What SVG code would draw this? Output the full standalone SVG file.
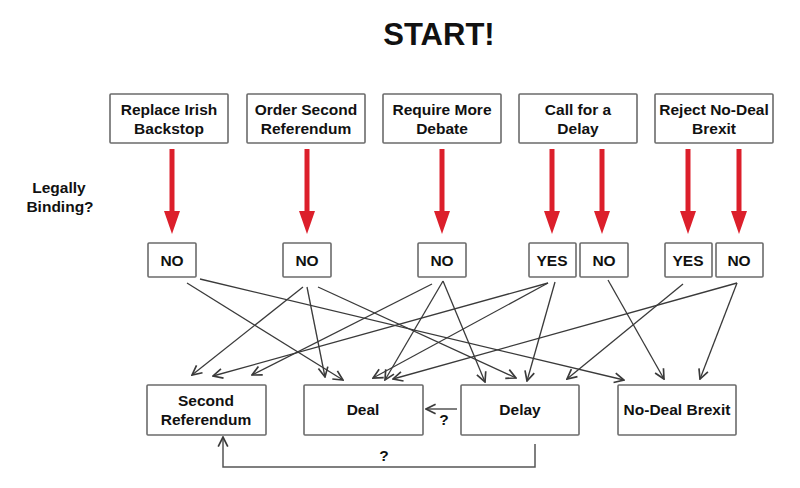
<svg xmlns="http://www.w3.org/2000/svg" width="800" height="488" viewBox="0 0 800 488">
<defs>
<style>
.box{fill:#fff;stroke:#6b6b6b;stroke-width:1.6}
.t{font-family:"Liberation Sans",Arial,sans-serif;font-weight:bold;font-size:15.5px;fill:#111;text-anchor:middle}
.title{font-family:"Liberation Sans",Arial,sans-serif;font-weight:bold;font-size:31px;fill:#111;text-anchor:middle}
.red{stroke:#dc1f2b;stroke-width:5;fill:none}
.redhead{fill:#dc1f2b}
.c{stroke:#3a3a3a;stroke-width:1.3;fill:none;marker-end:url(#arr)}
.fb{stroke:#555;stroke-width:1.5;fill:none;marker-end:url(#arr)}
</style>
<marker id="arr" markerUnits="userSpaceOnUse" markerWidth="12" markerHeight="12" refX="9" refY="5" orient="auto" viewBox="0 0 10 10">
<path d="M1,1 L9,5 L1,9" fill="none" stroke="#3a3a3a" stroke-width="1.4"/>
</marker>
<marker id="red" markerUnits="userSpaceOnUse" markerWidth="25" markerHeight="18" refX="0" refY="0" orient="auto" viewBox="-1 -9 25 18">
<path d="M0,-8 L23,0 L0,8 Z" class="redhead"/>
</marker>
</defs>
<rect width="800" height="488" fill="#fff"/>
<text class="title" x="439" y="45">START!</text>
<text class="t" x="59" y="193">Legally</text>
<text class="t" x="60" y="212">Binding?</text>

<g id="top1"><rect class="box" x="110" y="94" width="118" height="49" rx="1"/><text class="t" x="169" y="115">Replace Irish</text><text class="t" x="169" y="134">Backstop</text></g>
<g id="top2"><rect class="box" x="247" y="94" width="118" height="49" rx="1"/><text class="t" x="306" y="115">Order Second</text><text class="t" x="306" y="134">Referendum</text></g>
<g id="top3"><rect class="box" x="383" y="94" width="118" height="49" rx="1"/><text class="t" x="442" y="115">Require More</text><text class="t" x="442" y="134">Debate</text></g>
<g id="top4"><rect class="box" x="519" y="94" width="118" height="49" rx="1"/><text class="t" x="578" y="115">Call for a</text><text class="t" x="578" y="134">Delay</text></g>
<g id="top5"><rect class="box" x="655" y="94" width="118" height="49" rx="1"/><text class="t" x="714" y="115">Reject No-Deal</text><text class="t" x="714" y="134">Brexit</text></g>

<g id="mid1"><rect class="box" x="148" y="243" width="48" height="34" rx="1"/><text class="t" x="172" y="266">NO</text></g>
<g id="mid2"><rect class="box" x="283" y="243" width="48" height="34" rx="1"/><text class="t" x="307" y="266">NO</text></g>
<g id="mid3"><rect class="box" x="418" y="243" width="48" height="34" rx="1"/><text class="t" x="442" y="266">NO</text></g>
<g id="mid4"><rect class="box" x="529" y="243" width="47" height="34" rx="1"/><text class="t" x="552" y="266">YES</text></g>
<g id="mid5"><rect class="box" x="580" y="243" width="48" height="34" rx="1"/><text class="t" x="604" y="266">NO</text></g>
<g id="mid6"><rect class="box" x="665" y="243" width="47" height="34" rx="1"/><text class="t" x="688" y="266">YES</text></g>
<g id="mid7"><rect class="box" x="716" y="243" width="47" height="34" rx="1"/><text class="t" x="739" y="266">NO</text></g>

<g id="bot1"><rect class="box" x="147" y="385" width="119" height="50" rx="1"/><text class="t" x="206" y="406">Second</text><text class="t" x="206" y="425">Referendum</text></g>
<g id="bot2"><rect class="box" x="304" y="385" width="119" height="50" rx="1"/><text class="t" x="363" y="415">Deal</text></g>
<g id="bot3"><rect class="box" x="461" y="385" width="118" height="50" rx="1"/><text class="t" x="520" y="415">Delay</text></g>
<g id="bot4"><rect class="box" x="618" y="385" width="118" height="50" rx="1"/><text class="t" x="677" y="415">No-Deal Brexit</text></g>

<g id="connectors">
<g id="red-arrows">
<path class="red" d="M172,149 V211" marker-end="url(#red)"/>
<path class="red" d="M307,149 V211" marker-end="url(#red)"/>
<path class="red" d="M442,149 V211" marker-end="url(#red)"/>
<path class="red" d="M552,149 V211" marker-end="url(#red)"/>
<path class="red" d="M602,149 V211" marker-end="url(#red)"/>
<path class="red" d="M688,149 V211" marker-end="url(#red)"/>
<path class="red" d="M739,149 V211" marker-end="url(#red)"/>
</g>
<path class="c" d="M187,283 L343,380"/>
<path class="c" d="M200,279 L624,380"/>
<path class="c" d="M303,287 L192,375"/>
<path class="c" d="M307,287 L325,377"/>
<path class="c" d="M318,287 L516,378"/>
<path class="c" d="M432,284 L252,375"/>
<path class="c" d="M443,281 L385,380"/>
<path class="c" d="M443,281 L485,382"/>
<path class="c" d="M548,283 L213,376"/>
<path class="c" d="M548,283 L373,378"/>
<path class="c" d="M555,282 L527,381"/>
<path class="c" d="M608,280 L664,379"/>
<path class="c" d="M683,284 L567,379"/>
<path class="c" d="M737,283 L393,379"/>
<path class="c" d="M737,283 L700,379"/>
<path class="fb" d="M457,409 L426,409"/>
<path class="fb" d="M535,444 V467 H223 V437"/>
</g>
<text class="t" x="444" y="425">?</text>
<text class="t" x="384" y="461">?</text>
</svg>
